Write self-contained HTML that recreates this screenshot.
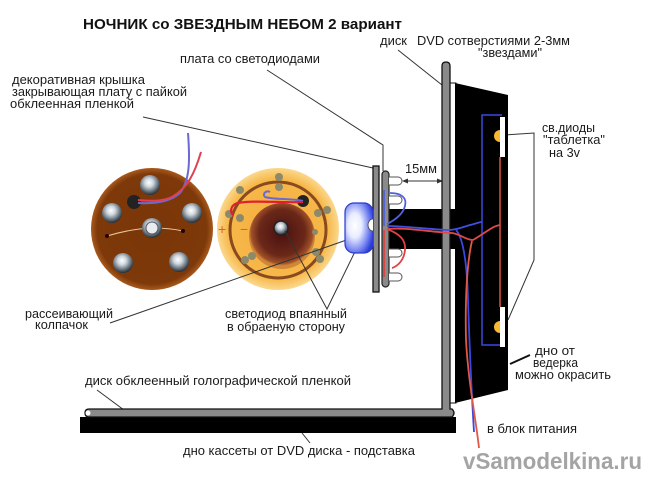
<!DOCTYPE html>
<html><head><meta charset="utf-8">
<style>
html,body{margin:0;padding:0;background:#fff;}
svg{display:block;}
text{font-family:"Liberation Sans","Noto Sans CJK SC",sans-serif;fill:#1a1a1a;}
</style></head>
<body>
<svg width="650" height="486" viewBox="0 0 650 486" xmlns="http://www.w3.org/2000/svg">
<defs>
  <radialGradient id="silver" cx="45%" cy="38%" r="60%">
    <stop offset="0" stop-color="#ffffff"/>
    <stop offset="0.35" stop-color="#d0d8de"/>
    <stop offset="0.8" stop-color="#5a6670"/>
    <stop offset="1" stop-color="#2e343a"/>
  </radialGradient>
  <radialGradient id="brown" cx="50%" cy="50%" r="50%">
    <stop offset="0" stop-color="#7a3608"/>
    <stop offset="0.9" stop-color="#7e390a"/>
    <stop offset="1" stop-color="#a85a1c"/>
  </radialGradient>
  <radialGradient id="orange" cx="50%" cy="50%" r="50%">
    <stop offset="0" stop-color="#f4ac3c"/>
    <stop offset="0.82" stop-color="#f7b84a"/>
    <stop offset="1" stop-color="#fbd88e"/>
  </radialGradient>
  <radialGradient id="inner" cx="50%" cy="45%" r="50%">
    <stop offset="0" stop-color="#4a1010"/>
    <stop offset="0.7" stop-color="#6a2818"/>
    <stop offset="0.93" stop-color="#a05028"/>
    <stop offset="1" stop-color="#d08838"/>
  </radialGradient>
  <radialGradient id="cap" cx="35%" cy="45%" r="70%">
    <stop offset="0" stop-color="#ffffff"/>
    <stop offset="0.35" stop-color="#e8ecff"/>
    <stop offset="0.75" stop-color="#7080f0"/>
    <stop offset="1" stop-color="#2a3ad8"/>
  </radialGradient>
</defs>

<!-- Title -->
<text x="83" y="29" font-size="15" font-weight="bold" textLength="319" lengthAdjust="spacingAndGlyphs" style="fill:#111">НОЧНИК со ЗВЕЗДНЫМ НЕБОМ 2 вариант</text>

<!-- labels -->
<text x="180" y="63" font-size="13" textLength="140" lengthAdjust="spacingAndGlyphs">плата со светодиодами</text>
<text x="12" y="84" font-size="13" textLength="133" lengthAdjust="spacingAndGlyphs">декоративная крышка</text>
<text x="12" y="96" font-size="13" textLength="175" lengthAdjust="spacingAndGlyphs">закрывающая плату с пайкой</text>
<text x="10" y="108" font-size="13" textLength="124" lengthAdjust="spacingAndGlyphs">обклеенная пленкой</text>
<text x="380" y="45" font-size="13" textLength="27" lengthAdjust="spacingAndGlyphs">диск</text>
<text x="417" y="45" font-size="13" textLength="153" lengthAdjust="spacingAndGlyphs">DVD сотверстиями 2-3мм</text>
<text x="478" y="57" font-size="13" textLength="64" lengthAdjust="spacingAndGlyphs">"звездами"</text>
<text x="405" y="173" font-size="13" textLength="32" lengthAdjust="spacingAndGlyphs">15мм</text>
<text x="542" y="132" font-size="13" textLength="53" lengthAdjust="spacingAndGlyphs">св.диоды</text>
<text x="543" y="144" font-size="13" textLength="62" lengthAdjust="spacingAndGlyphs">"таблетка"</text>
<text x="549" y="157" font-size="13" textLength="31" lengthAdjust="spacingAndGlyphs">на 3v</text>
<text x="25" y="318" font-size="13" textLength="88" lengthAdjust="spacingAndGlyphs">рассеивающий</text>
<text x="35" y="329" font-size="13" textLength="53" lengthAdjust="spacingAndGlyphs">колпачок</text>
<text x="225" y="318" font-size="13" textLength="122" lengthAdjust="spacingAndGlyphs">светодиод впаянный</text>
<text x="227" y="331" font-size="13" textLength="118" lengthAdjust="spacingAndGlyphs">в обраеную сторону</text>
<text x="535" y="355" font-size="13" textLength="40" lengthAdjust="spacingAndGlyphs">дно от</text>
<text x="533" y="367" font-size="13" textLength="45" lengthAdjust="spacingAndGlyphs">ведерка</text>
<text x="515" y="379" font-size="13" textLength="96" lengthAdjust="spacingAndGlyphs">можно окрасить</text>
<text x="85" y="385" font-size="13" textLength="266" lengthAdjust="spacingAndGlyphs">диск обклеенный голографической пленкой</text>
<text x="183" y="455" font-size="13" textLength="232" lengthAdjust="spacingAndGlyphs">дно кассеты от DVD диска - подставка</text>
<text x="487" y="433" font-size="13" textLength="90" lengthAdjust="spacingAndGlyphs">в блок питания</text>
<text x="463" y="469" font-size="23" font-weight="bold" textLength="179" lengthAdjust="spacingAndGlyphs" style="fill:#a4a4a4">vSamodelkina.ru</text>

<!-- LEFT DISC -->
<circle cx="152" cy="229" r="61" fill="url(#brown)"/>
<path d="M107 236 Q130 229 152 228 Q170 228 183 231" stroke="#e8c8a0" stroke-width="1" fill="none"/>
<circle cx="107" cy="236" r="2" fill="#200"/>
<circle cx="183" cy="231" r="2" fill="#200"/>
<circle cx="150" cy="185" r="10" fill="url(#silver)"/>
<circle cx="112" cy="213" r="10" fill="url(#silver)"/>
<circle cx="192" cy="213" r="10" fill="url(#silver)"/>
<circle cx="123" cy="263" r="10" fill="url(#silver)"/>
<circle cx="179" cy="262" r="10" fill="url(#silver)"/>
<circle cx="152" cy="228" r="10" fill="url(#silver)"/>
<circle cx="152" cy="228" r="6" fill="#e8ecef" stroke="#556" stroke-width="1"/>
<circle cx="134" cy="202" r="7" fill="#222"/>
<path d="M188 133 C190 160 190 180 180 193 C170 202 155 204 138 203" stroke="#6a6ad0" stroke-width="2" fill="none"/>
<path d="M201 152 C195 172 188 188 172 197 C160 202 150 201 138 200" stroke="#e04050" stroke-width="2" fill="none"/>

<!-- MIDDLE DISC -->
<circle cx="278" cy="229" r="61" fill="url(#orange)"/>
<circle cx="278" cy="230" r="48" fill="none" stroke="#8a4a20" stroke-width="3"/>
<circle cx="282" cy="236" r="33" fill="url(#inner)"/>
<g fill="#8c8a6a">
<circle cx="279" cy="177" r="4"/><circle cx="279" cy="187" r="4"/>
<circle cx="240" cy="190" r="4"/><circle cx="229" cy="214" r="4"/>
<circle cx="240" cy="218" r="4"/><circle cx="318" cy="213" r="4"/>
<circle cx="327" cy="210" r="4"/><circle cx="315" cy="232" r="3"/>
<circle cx="252" cy="256" r="4"/><circle cx="245" cy="260" r="4"/>
<circle cx="316" cy="252" r="4"/><circle cx="320" cy="259" r="4"/>
</g>
<circle cx="303" cy="201" r="6" fill="#222"/>
<path d="M303 201 C290 198 275 200 265 197 C262 194 266 190 270 192" stroke="#6a6ad0" stroke-width="2" fill="none"/>
<path d="M303 202 C280 203 255 200 238 203 C230 205 230 212 233 215" stroke="#e02030" stroke-width="2.2" fill="none"/>
<text x="218" y="234" font-size="14" style="fill:#e0602a">+</text>
<text x="240" y="234" font-size="14" style="fill:#e0602a">−</text>
<circle cx="281" cy="228" r="7" fill="url(#silver)" stroke="#222" stroke-width="1.5"/>

<!-- pointer lines -->
<g stroke="#333" stroke-width="1" fill="none">
<line x1="143" y1="117" x2="373" y2="168"/>
<polyline points="267,70 383,145 383,171"/>
<line x1="398" y1="50" x2="442" y2="85"/>
<line x1="110" y1="323" x2="355" y2="237"/>
<polyline points="285,231 327,309 368,225"/>
<polyline points="505,135 534,133 534,260 508,320"/>
<line x1="97" y1="390" x2="128" y2="413"/>
<line x1="302" y1="433" x2="310" y2="443"/>
<line x1="404" y1="181" x2="441" y2="181"/>
</g>
<path d="M402 181 L408 178.5 L408 183.5 Z" fill="#333"/>
<path d="M443 181 L437 178.5 L437 183.5 Z" fill="#333"/>
<line x1="510" y1="364" x2="530" y2="355" stroke="#111" stroke-width="2"/>

<!-- BUCKET -->
<rect x="450" y="83" width="6" height="320" fill="#fff" stroke="#111" stroke-width="1"/>
<polygon points="455,83 508,95 508,390 455,403" fill="#000"/>
<polyline points="502,115 482,115 482,345 502,345" stroke="#3a48e0" stroke-width="1.5" fill="none"/>
<line x1="500" y1="157" x2="500" y2="307" stroke="#e05040" stroke-width="1.5"/>
<rect x="500" y="117" width="5" height="40" fill="#fff"/>
<path d="M500 130 A6 6 0 0 0 500 142 Z" fill="#f5b830"/>
<rect x="500" y="307" width="5" height="40" fill="#fff"/>
<path d="M500 321 A6 6 0 0 0 500 333 Z" fill="#f5b830"/>

<!-- SHAFT -->
<rect x="389" y="209" width="67" height="40" fill="#000"/>

<!-- STAND (gray L) -->
<rect x="80" y="417" width="376" height="16" fill="#000"/>
<path d="M442 66 Q442 62 446 62 Q450 62 450 66 L450 409 L452 409 Q456 413 452 417 L89 417 Q85 417 85 413 Q85 409 89 409 L442 409 Z" fill="#8a8a8a" stroke="#111" stroke-width="1.3"/>
<circle cx="88" cy="413" r="2.5" fill="#fff"/>

<!-- decorative cover plate and board -->
<rect x="373" y="166" width="6" height="126" fill="#8a8a8a" stroke="#111" stroke-width="1.3"/>
<rect x="382" y="171" width="7" height="116" rx="3.5" fill="#8a8a8a" stroke="#222" stroke-width="1.2"/>
<g fill="#fff" stroke="#555" stroke-width="1">
<path d="M389 177 L398 177 A4 4 0 0 1 398 185 L389 185"/>
<path d="M389 196 L398 196 A4 4 0 0 1 398 204 L389 204"/>
<path d="M389 249 L398 249 A4 4 0 0 1 398 257 L389 257"/>
<path d="M389 273 L398 273 A4 4 0 0 1 398 281 L389 281"/>
</g>

<!-- blue cap -->
<rect x="345" y="203" width="28" height="50" rx="9" fill="url(#cap)" stroke="#2a3ad0" stroke-width="1.2"/>
<path d="M373 219 A5 6 0 0 0 373 231" fill="#fff" stroke="#444" stroke-width="0.8"/>

<!-- wires near board / through shaft -->
<g fill="none" stroke-width="1.8">
<path d="M384 190 L384 226" stroke="#5060e0"/>
<path d="M390 193 C402 193 407 198 405 206 C403 214 395 220 387 224" stroke="#5060e0"/>
<path d="M387 226 C405 226 425 229 448 230 C455 230 460 228 470 225 C475 224 479 222 482 222" stroke="#4050e0"/>
<path d="M456 230 C463 238 467 262 468 300 C470 360 472 400 474 432" stroke="#3a48e0"/>
<path d="M384 230 L384 277" stroke="#e04040"/>
<path d="M387 229 C400 234 406 240 405 250 C404 260 398 266 392 268" stroke="#e04040"/>
<path d="M387 229 C405 227 430 232 452 233 C460 234 466 240 473 240 C484 234 492 226 500 225" stroke="#e04848"/>
<path d="M472 241 C467 262 465 300 466 340 C468 380 476 420 479 448" stroke="#e05848"/>
</g>
</svg>
</body></html>
